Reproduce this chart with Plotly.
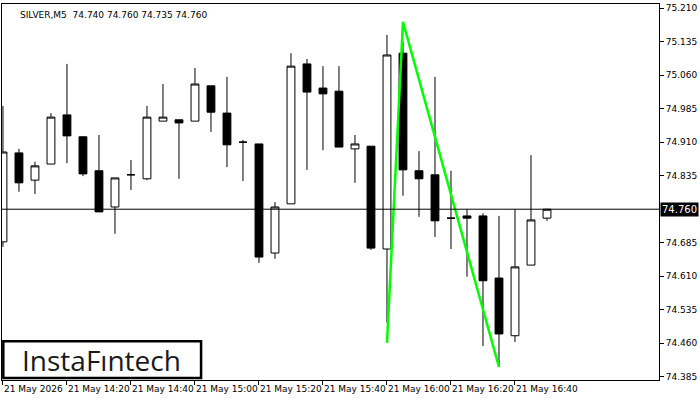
import plotly.graph_objects as go

idx = list(range(35))
opens  = [74.687,74.886,74.825,74.861,74.971,74.922,74.846,74.765,74.837,74.828,74.957,74.960,74.957,75.036,74.975,74.910,74.906,74.662,74.772,75.085,75.031,75.024,74.895,74.901,74.671,75.109,74.846,74.837,74.740,74.745,74.745,74.606,74.477,74.635,74.740]
highs  = [74.991,74.895,74.866,74.975,75.085,74.922,74.926,74.830,74.870,74.991,75.040,74.960,75.076,75.036,75.056,74.915,74.906,74.776,75.109,75.096,75.080,75.080,74.926,74.901,75.150,75.134,74.890,75.056,74.846,74.760,74.751,74.745,74.760,74.881,74.760]
lows   = [74.676,74.799,74.794,74.861,74.863,74.834,74.754,74.705,74.803,74.825,74.957,74.828,74.957,74.933,74.854,74.823,74.640,74.649,74.772,74.848,74.892,74.899,74.819,74.669,74.506,74.790,74.743,74.698,74.671,74.609,74.454,74.407,74.463,74.635,74.734]
closes = [74.888,74.819,74.857,74.966,74.924,74.839,74.754,74.830,74.837,74.966,74.966,74.953,75.040,74.977,74.904,74.910,74.653,74.765,75.080,75.022,75.018,74.899,74.906,74.673,75.105,74.848,74.828,74.734,74.740,74.740,74.600,74.481,74.631,74.736,74.760]
tick_idx = [0,4,8,12,16,20,24,28,32]
tick_labels = ["21 May 2026","21 May 14:20","21 May 14:40","21 May 15:00","21 May 15:20","21 May 15:40","21 May 16:00","21 May 16:20","21 May 16:40"]
price_ticks = [75.210,75.135,75.060,74.985,74.910,74.835,74.685,74.610,74.535,74.460,74.385]
pattern_x = [24,25,31]
pattern_y = [74.461,75.179,74.407]
current = 74.760

fig = go.Figure()
fig.add_trace(go.Candlestick(x=idx, open=opens, high=highs, low=lows, close=closes,
    increasing=dict(fillcolor="white", line=dict(color="black", width=1)),
    decreasing=dict(fillcolor="black", line=dict(color="black", width=1)),
    whiskerwidth=0, showlegend=False, hoverinfo="skip"))
fig.add_trace(go.Scatter(x=pattern_x, y=pattern_y, mode="lines",
    line=dict(color="#00ff00", width=2.5), showlegend=False, hoverinfo="skip"))
fig.add_hline(y=current, line=dict(color="black", width=1))
fig.add_annotation(xref="paper", x=1.0, y=current, text=f"{current:.3f}", showarrow=False,
    xanchor="left", bgcolor="black", font=dict(color="white", size=10, family="DejaVu Sans"), borderpad=1, xshift=1)
fig.add_annotation(xref="paper", yref="paper", x=0.025, y=0.99, text="SILVER,M5  74.740 74.760 74.735 74.760",
    showarrow=False, xanchor="left", yanchor="top", font=dict(size=9, family="DejaVu Sans", color="black"))
fig.add_shape(type="rect", xref="paper", yref="paper", x0=0.002, x1=0.303, y0=0.005, y1=0.103,
    line=dict(color="black", width=2.5), fillcolor="white", layer="above")
fig.add_annotation(xref="paper", yref="paper", x=0.152, y=0.054, text="InstaFıntech", showarrow=False,
    xanchor="center", yanchor="middle", font=dict(size=28, family="Open Sans", color="#1a1a1a", weight=500))
fig.update_layout(width=700, height=400, margin=dict(l=2, r=41, t=4, b=20, autoexpand=False),
    paper_bgcolor="white", plot_bgcolor="white",
    font=dict(family="DejaVu Sans", size=9, color="black"))
fig.update_xaxes(range=[-0.06, 41], tickvals=tick_idx, ticktext=tick_labels, ticks="outside",
    ticklen=4, tickcolor="black", showgrid=False, zeroline=False, showline=True, linecolor="black",
    mirror=True, rangeslider_visible=False, ticklabelposition="outside right", tickangle=0,
    automargin=False, tickfont=dict(size=9))
fig.update_yaxes(range=[74.378, 75.219], side="right", tickvals=price_ticks,
    ticktext=[f"{v:.3f}" for v in price_ticks], ticks="outside", ticklen=4, tickcolor="black",
    showgrid=False, zeroline=False, showline=True, linecolor="black", mirror=True,
    automargin=False, tickfont=dict(size=9))
fig.write_html("out.html", config={"displayModeBar": False},
               post_script="document.body.style.margin='0';")
